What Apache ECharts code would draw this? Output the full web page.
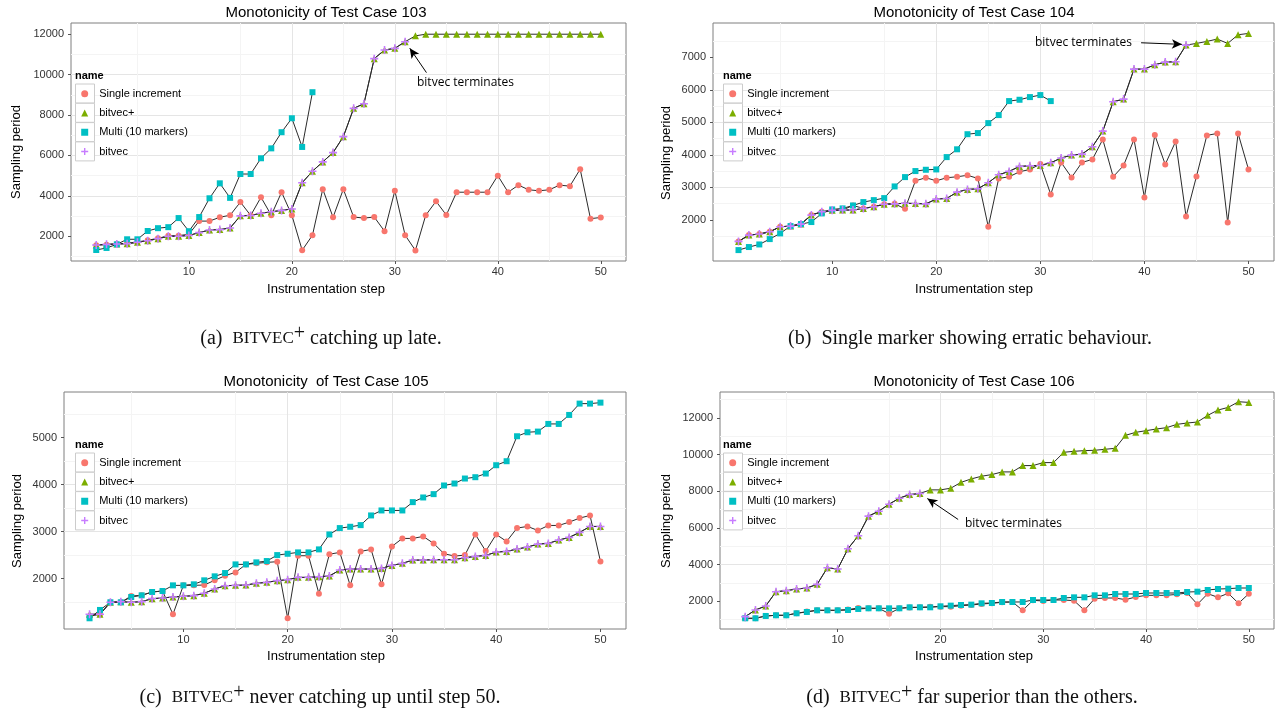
<!DOCTYPE html>
<html>
<head>
<meta charset="utf-8">
<title>Monotonicity of Test Cases 103-106</title>
<script src="https://cdn.jsdelivr.net/npm/echarts@6/dist/echarts.min.js"></script>
<style>
  html, body { margin: 0; padding: 0; background: #fff; }
  #main { width: 1275px; height: 711px; }
</style>
</head>
<body>
<div id="main"></div>
<script>
// ---- data ----
var steps = [1, 2, 3, 4, 5, 6, 7, 8, 9, 10, 11, 12, 13, 14, 15, 16, 17, 18, 19, 20,
  21, 22, 23, 24, 25, 26, 27, 28, 29, 30, 31, 32, 33, 34, 35, 36, 37, 38, 39, 40,
  41, 42, 43, 44, 45, 46, 47, 48, 49, 50];
var seriesNames = ['Single increment', 'bitvec+', 'Multi (10 markers)', 'bitvec'];
var xTicks = [10, 20, 30, 40, 50];

// Test case 103
var tc103Single = [1560, 1580, 1620, 1650, 1720, 1800, 1900, 2020, 2030, 2100,
  2750, 2750, 2940, 3040, 3690, 3030, 3930, 3040, 4180, 3040,
  1310, 2050, 4330, 2940, 4330, 2950, 2900, 2950, 2250, 4250,
  2050, 1300, 3040, 3730, 3050, 4180, 4180, 4180, 4180, 5000,
  4180, 4530, 4300, 4250, 4300, 4530, 4480, 5320, 2870, 2930];
var tc103BitvecPlus = [1570, 1600, 1620, 1630, 1700, 1780, 1880, 2000, 2000, 2040,
  2180, 2310, 2330, 2410, 3010, 3030, 3140, 3210, 3280, 3350,
  4650, 5220, 5680, 6140, 6930, 8330, 8560, 10790, 11220, 11300,
  11630, 11920, 12000, 12000, 12000, 12000, 12000, 12000, 12000, 12000,
  12000, 12000, 12000, 12000, 12000, 12000, 12000, 12000, 12000, 12000];
var tc103Multi = [1320, 1420, 1600, 1850, 1850, 2260, 2400, 2450, 2900, 2250,
  2950, 3880, 4620, 3900, 5080, 5080, 5860, 6350, 7150, 7840, 6420, 9130];
var tc103Bitvec = [1570, 1600, 1620, 1630, 1700, 1780, 1880, 2000, 2000, 2040,
  2180, 2310, 2330, 2410, 3010, 3030, 3140, 3210, 3280, 3350,
  4650, 5220, 5680, 6140, 6930, 8330, 8560, 10790, 11220, 11300, 11630];
var tc103YTicks = [2000, 4000, 6000, 8000, 10000, 12000];

// Test case 104
var tc104Single = [1333, 1528, 1560, 1630, 1785, 1805, 1867, 2144, 2246, 2290,
  2300, 2440, 2350, 2400, 2480, 2490, 2339, 3200, 3294, 3200,
  3294, 3324, 3370, 3273, 1784, 3273, 3324, 3478, 3550, 3714,
  2780, 3766, 3304, 3766, 3858, 4474, 3324, 3673, 4474, 2688,
  4608, 3704, 4413, 2103, 3335, 4598, 4659, 1918, 4659, 3550];
var tc104BitvecPlus = [1333, 1528, 1560, 1630, 1785, 1805, 1867, 2144, 2246, 2290,
  2300, 2300, 2350, 2400, 2480, 2490, 2510, 2500, 2490, 2637,
  2657, 2850, 2934, 2955, 3140, 3386, 3490, 3643, 3663, 3673,
  3756, 3900, 3992, 4022, 4248, 4730, 5634, 5716, 6640, 6640,
  6774, 6856, 6866, 7380, 7431, 7493, 7565, 7431, 7698, 7739];
var tc104Multi = [1066, 1160, 1240, 1405, 1580, 1805, 1867, 1930, 2195, 2318,
  2350, 2440, 2545, 2605, 2667, 3027, 3314, 3500, 3540, 3550,
  3930, 4170, 4635, 4670, 4977, 5224, 5655, 5696, 5778, 5840, 5655];
var tc104Bitvec = [1333, 1528, 1560, 1630, 1785, 1805, 1867, 2144, 2246, 2290,
  2300, 2300, 2350, 2400, 2480, 2490, 2510, 2500, 2490, 2637,
  2657, 2850, 2934, 2955, 3140, 3386, 3490, 3643, 3663, 3673,
  3756, 3900, 3992, 4022, 4248, 4730, 5634, 5716, 6640, 6640,
  6774, 6856, 6866, 7380];
var tc104YTicks = [2000, 3000, 4000, 5000, 6000, 7000];

// Test case 105
var tc105Single = [1200, 1243, 1498, 1498, 1632, 1646, 1717, 1738, 1243, 1858,
  1858, 1866, 1965, 2064, 2134, 2304, 2326, 2347, 2361, 1158,
  2488, 2488, 1682, 2520, 2559, 1858, 2580, 2623, 1880, 2686,
  2856, 2856, 2899, 2750, 2531, 2481, 2502, 2941, 2587, 2941,
  2793, 3076, 3111, 3026, 3132, 3132, 3203, 3288, 3345, 2368];
var tc105BitvecPlus = [1243, 1243, 1498, 1512, 1498, 1512, 1575, 1590, 1611, 1625,
  1639, 1689, 1781, 1851, 1858, 1866, 1901, 1922, 1958, 1979,
  2028, 2028, 2042, 2057, 2184, 2205, 2205, 2205, 2219, 2283,
  2326, 2396, 2396, 2403, 2403, 2403, 2446, 2474, 2495, 2566,
  2580, 2630, 2672, 2736, 2750, 2821, 2878, 2984, 3111, 3111];
var tc105Multi = [1158, 1335, 1498, 1498, 1611, 1646, 1717, 1738, 1858, 1858,
  1880, 1965, 2050, 2120, 2304, 2304, 2347, 2375, 2502, 2530,
  2559, 2559, 2623, 2941, 3076, 3104, 3139, 3345, 3451, 3451,
  3451, 3628, 3727, 3798, 3982, 4024, 4130, 4158, 4236, 4413,
  4498, 5029, 5114, 5128, 5291, 5291, 5482, 5723, 5723, 5744];
var tc105Bitvec = [1243, 1243, 1498, 1512, 1498, 1512, 1575, 1590, 1611, 1625,
  1639, 1689, 1781, 1851, 1858, 1866, 1901, 1922, 1958, 1979,
  2028, 2028, 2042, 2057, 2184, 2205, 2205, 2205, 2219, 2283,
  2326, 2396, 2396, 2403, 2403, 2403, 2446, 2474, 2495, 2566,
  2580, 2630, 2672, 2736, 2750, 2821, 2878, 2984, 3111, 3111];
var tc105YTicks = [2000, 3000, 4000, 5000];

// Test case 106
var tc106Single = [1074, 1074, 1200, 1238, 1238, 1347, 1440, 1510, 1510, 1510,
  1550, 1637, 1620, 1619, 1328, 1619, 1660, 1673, 1700, 1710,
  1710, 1760, 1800, 1855, 1891, 1946, 1964, 1510, 2054, 2018,
  2073, 2073, 2036, 1510, 2145, 2181, 2181, 2091, 2236, 2327,
  2327, 2327, 2381, 2454, 1837, 2417, 2218, 2436, 1891, 2417];
var tc106BitvecPlus = [1165, 1528, 1746, 2526, 2581, 2671, 2726, 2926, 3833, 3760,
  4867, 5575, 6646, 6918, 7299, 7626, 7826, 7880, 8080, 8080,
  8171, 8490, 8679, 8824, 8915, 9060, 9060, 9405, 9405, 9568,
  9568, 10131, 10185, 10221, 10240, 10294, 10348, 11056, 11219, 11310,
  11401, 11474, 11655, 11728, 11782, 12145, 12436, 12581, 12889, 12853];
var tc106Multi = [1074, 1074, 1201, 1238, 1238, 1347, 1419, 1510, 1510, 1510,
  1528, 1583, 1619, 1619, 1619, 1619, 1673, 1673, 1673, 1728,
  1764, 1800, 1819, 1891, 1909, 1964, 1964, 1964, 2073, 2073,
  2073, 2181, 2218, 2218, 2327, 2327, 2399, 2399, 2399, 2454,
  2454, 2454, 2454, 2508, 2526, 2617, 2671, 2690, 2726, 2726];
var tc106Bitvec = [1165, 1528, 1746, 2526, 2581, 2671, 2726, 2926, 3833, 3760,
  4867, 5575, 6646, 6918, 7299, 7626, 7826, 7880];
var tc106YTicks = [2000, 4000, 6000, 8000, 10000, 12000];

// ---- look ----
var colors = ['#F8766D', '#7CAE00', '#00BFC4', '#C77CFF'];
var plusPath = 'path://M4,0H6V4H10V6H6V10H4V6H0V4H4Z';
var symbols = ['circle', 'triangle', 'rect', plusPath];
var symbolSizes = [6, 7, 6, 8];
var sans = 'Liberation Sans';
var serif = 'Liberation Serif';

var panels = [
  {
    title: 'Monotonicity of Test Case 103',
    caption: '(a)  {sc|BITVEC}{sup|+} catching up late.',
    grid: { left: 71, top: 23, width: 555, height: 238 },
    yMin: 775, yMax: 12555, ySplit: 5, yTicks: tc103YTicks,
    values: [tc103Single, tc103BitvecPlus, tc103Multi, tc103Bitvec],
    cx: 326, titleY: 13, xNameY: 289, yNameX: 16, yNameY: 152,
    capX: 321, capY: 339, legX: 75, legY: 76,
    note: { x: 417, y: 83, from: [33.07, 10099], to: [31.45, 11307] }
  },
  {
    title: 'Monotonicity of Test Case 104',
    caption: '(b)  Single marker showing erratic behaviour.',
    grid: { left: 713, top: 23, width: 561, height: 238 },
    yMin: 730, yMax: 8060, ySplit: 5, yTicks: tc104YTicks,
    values: [tc104Single, tc104BitvecPlus, tc104Multi, tc104Bitvec],
    cx: 974, titleY: 13, xNameY: 289, yNameX: 666, yNameY: 153,
    capX: 970, capY: 339, legX: 723, legY: 76,
    note: { x: 1035, y: 43, from: [39.68, 7451], to: [43.6, 7402] }
  },
  {
    title: 'Monotonicity  of Test Case 105',
    caption: '(c)  {sc|BITVEC}{sup|+} never catching up until step 50.',
    grid: { left: 64, top: 392, width: 562, height: 237 },
    yMin: 930, yMax: 5970, ySplit: 5, yTicks: tc105YTicks,
    values: [tc105Single, tc105BitvecPlus, tc105Multi, tc105Bitvec],
    cx: 326, titleY: 382, xNameY: 656, yNameX: 17, yNameY: 521,
    capX: 320, capY: 698, legX: 75, legY: 445,
    note: null
  },
  {
    title: 'Monotonicity of Test Case 106',
    caption: '(d)  {sc|BITVEC}{sup|+} far superior than the others.',
    grid: { left: 720, top: 392, width: 554, height: 237 },
    yMin: 490, yMax: 13420, ySplit: 6, yTicks: tc106YTicks,
    values: [tc106Single, tc106BitvecPlus, tc106Multi, tc106Bitvec],
    cx: 974, titleY: 382, xNameY: 656, yNameX: 666, yNameY: 521,
    capX: 972, capY: 698, legX: 723, legY: 445,
    note: { x: 965, y: 523.5, from: [21.72, 6465], to: [18.72, 7608] }
  }
];

function toPoints(values) {
  var pts = [];
  for (var i = 0; i < values.length; i++) {
    pts.push([steps[i], values[i]]);
  }
  return pts;
}

// plain numbers, no thousands separator
function plainLabel(v) {
  return String(v);
}

var option = {
  animation: false,
  backgroundColor: '#fff',
  textStyle: { fontFamily: sans },
  grid: [], xAxis: [], yAxis: [], legend: [], series: [],
  graphic: { elements: [] }
};
var g = option.graphic.elements;

panels.forEach(function (p, i) {
  option.grid.push({
    left: p.grid.left, top: p.grid.top, width: p.grid.width, height: p.grid.height,
    show: true, backgroundColor: '#fff', borderColor: '#7f7f7f', borderWidth: 1
  });
  option.xAxis.push({
    gridIndex: i, type: 'value', min: -1.45, max: 52.45, splitNumber: 5,
    axisLine: { show: false, onZero: false },
    axisTick: { show: true, length: 3, customValues: xTicks, lineStyle: { color: '#555' } },
    axisLabel: { customValues: xTicks, formatter: plainLabel, fontSize: 11, color: '#333', margin: 5, fontFamily: sans },
    splitLine: { show: true, showMinLine: false, showMaxLine: false, lineStyle: { color: '#e5e5e5', width: 1 } },
    minorTick: { show: false, splitNumber: 2 },
    minorSplitLine: { show: true, lineStyle: { color: '#f4f4f4', width: 1 } }
  });
  option.yAxis.push({
    gridIndex: i, type: 'value', min: p.yMin, max: p.yMax, splitNumber: p.ySplit,
    axisLine: { show: false, onZero: false },
    axisTick: { show: true, length: 3, customValues: p.yTicks, lineStyle: { color: '#555' } },
    axisLabel: { customValues: p.yTicks, formatter: plainLabel, fontSize: 11, color: '#333', margin: 7, fontFamily: sans },
    splitLine: { show: true, showMinLine: false, showMaxLine: false, lineStyle: { color: '#e5e5e5', width: 1 } },
    minorTick: { show: false, splitNumber: 2 },
    minorSplitLine: { show: true, lineStyle: { color: '#f4f4f4', width: 1 } }
  });

  // points first (legend picks its colour from them), then the connecting lines
  p.values.forEach(function (vals, k) {
    option.series.push({
      type: 'scatter', name: seriesNames[k], xAxisIndex: i, yAxisIndex: i,
      data: toPoints(vals), symbol: symbols[k], symbolSize: symbolSizes[k],
      itemStyle: { color: colors[k], opacity: 1 },
      emphasis: { disabled: true }, silent: true, z: 3 + k
    });
  });
  p.values.forEach(function (vals, k) {
    var s = {
      type: 'line', name: seriesNames[k], xAxisIndex: i, yAxisIndex: i,
      data: toPoints(vals), symbol: 'none', showSymbol: false,
      itemStyle: { color: colors[k] },
      lineStyle: { color: '#2b2b2b', width: 1 },
      emphasis: { disabled: true }, silent: true, z: 2
    };
    if (k === 1 && p.note) {
      s.markLine = {
        silent: true, symbol: ['none', 'arrow'], symbolSize: [7, 10],
        label: { show: false },
        lineStyle: { color: '#000', width: 1, type: 'solid' },
        data: [[{ coord: p.note.from }, { coord: p.note.to }]]
      };
    }
    option.series.push(s);
  });

  option.legend.push({
    orient: 'vertical', left: p.legX + 9.7 - 3.5, top: p.legY + 8, padding: 0,
    itemGap: 0, itemWidth: 7, itemHeight: 7, selectedMode: false, z: 6,
    textStyle: { fontSize: 11, color: '#000', fontFamily: sans, lineHeight: 19.3, padding: [0, 0, 0, 6] },
    data: seriesNames.map(function (n, k) { return { name: n, icon: symbols[k] }; })
  });

  // legend title and key boxes
  g.push({
    type: 'text', z: 5, x: p.legX, y: p.legY,
    style: { text: 'name', fontSize: 11, fontWeight: 'bold', fontFamily: sans, fill: '#000', verticalAlign: 'middle' }
  });
  for (var r = 0; r < 4; r++) {
    g.push({
      type: 'rect', z: 5,
      shape: { x: p.legX + 0.5, y: p.legY + 8 + 19.3 * r, width: 19, height: 19 },
      style: { fill: '#fff', stroke: '#cccccc', lineWidth: 1 }
    });
  }

  g.push({
    type: 'text', z: 5, x: p.cx, y: p.titleY,
    style: { text: p.title, fontSize: 15, fontFamily: sans, fill: '#000', align: 'center', verticalAlign: 'middle' }
  });
  g.push({
    type: 'text', z: 5, x: p.cx, y: p.xNameY,
    style: { text: 'Instrumentation step', fontSize: 13, fontFamily: sans, fill: '#000', align: 'center', verticalAlign: 'middle' }
  });
  g.push({
    type: 'text', z: 5, x: p.yNameX, y: p.yNameY, rotation: Math.PI / 2,
    style: { text: 'Sampling period', fontSize: 13, fontFamily: sans, fill: '#000', align: 'center', verticalAlign: 'middle' }
  });
  g.push({
    type: 'text', z: 5, x: p.capX, y: p.capY,
    style: {
      text: p.caption, fontSize: 20, fontFamily: serif, fill: '#111',
      align: 'center', verticalAlign: 'middle',
      rich: {
        sc: { fontSize: 17, fontFamily: serif, fill: '#111' },
        sup: { fontSize: 20, fontFamily: serif, fill: '#111', padding: [0, 0, 11, 0] }
      }
    }
  });
  if (p.note) {
    g.push({
      type: 'text', z: 5, x: p.note.x, y: p.note.y,
      style: { text: 'bitvec terminates', fontSize: 12, fontFamily: 'Open Sans', fill: '#000', verticalAlign: 'middle' }
    });
  }
});

var chart = echarts.init(document.getElementById('main'), null, { renderer: 'canvas' });
chart.setOption(option);
</script>
</body>
</html>
